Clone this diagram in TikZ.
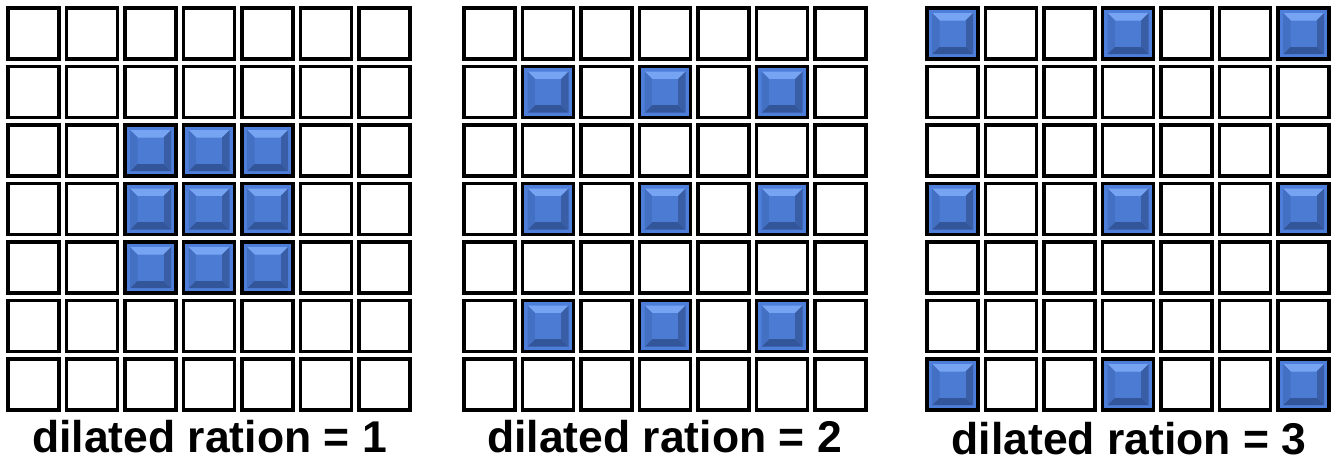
\documentclass[tikz,border=0pt]{standalone}
\usepackage{fontspec}
\setmainfont{Liberation Sans}
\definecolor{bframe}{HTML}{4D7EDA}
\definecolor{btop}{HTML}{77A4F2}
\definecolor{bbot}{HTML}{33569A}
\definecolor{bleft}{HTML}{4470C4}
\definecolor{bright}{HTML}{395EA6}
\definecolor{bcenter}{HTML}{4C7BD3}
\tikzset{
  cellbox/.style={rectangle, draw=black, line width=3.8pt, fill=white,
    minimum size=51pt, inner sep=0pt, outer sep=0pt},
  captiontext/.style={font=\fontsize{44.5}{50}\selectfont\bfseries,
    anchor=base, inner sep=0pt, text=black}
}
\newcommand\bevelcell[1]{%
  \begin{scope}[shift={(#1.center)}]
    \fill[bframe] (-23.7,-23.7) rectangle (23.7,23.7);
    \fill[btop] (-20.5,-20.5) -- (20.5,-20.5) -- (13,-13) -- (-13,-13) -- cycle;
    \fill[bbot] (-20.5,20.5) -- (20.5,20.5) -- (13,13) -- (-13,13) -- cycle;
    \fill[bleft] (-20.5,-20.5) -- (-13,-13) -- (-13,13) -- (-20.5,20.5) -- cycle;
    \fill[bright] (20.5,-20.5) -- (13,-13) -- (13,13) -- (20.5,20.5) -- cycle;
    \fill[bcenter] (-13,-13) rectangle (13,13);
  \end{scope}}
\begin{document}
\begin{tikzpicture}[x=1pt,y=-1pt]
  \useasboundingbox[fill=white] (0,0) rectangle (1342,463);
  \foreach \g/\x in {1/6,2/462,3/925}{
    \foreach \r in {0,...,6}{
      \foreach \c in {0,...,6}{
        \node[cellbox] (g\g-\r-\c) at ({\x+27.5+\c*58.5},{33.5+\r*58.5}) {};
      }
    }
  }
  \foreach \r/\c in {2/2,2/3,2/4,3/2,3/3,3/4,4/2,4/3,4/4}{\bevelcell{g1-\r-\c}}
  \foreach \r/\c in {1/1,1/3,1/5,3/1,3/3,3/5,5/1,5/3,5/5}{\bevelcell{g2-\r-\c}}
  \foreach \r/\c in {0/0,0/3,0/6,3/0,3/3,3/6,6/0,6/3,6/6}{\bevelcell{g3-\r-\c}}
  \node[captiontext] (t1) at (209.5,452.5) {dilated ration = 1};
  \node[captiontext] (t2) at (664.5,452) {dilated ration = 2};
  \node[captiontext] (t3) at (1129,454.5) {dilated ration = 3};
\end{tikzpicture}
\end{document}
